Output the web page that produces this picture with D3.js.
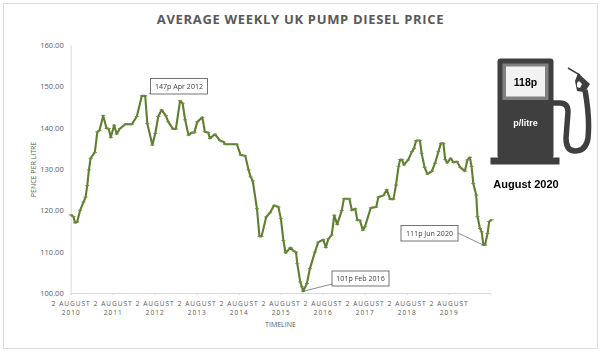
<!DOCTYPE html>
<html>
<head>
<meta charset="utf-8">
<script src="https://cdnjs.cloudflare.com/ajax/libs/d3/7.8.5/d3.min.js"></script>
<style>
    html, body { margin: 0; padding: 0; background: #fff; }
    svg { display: block; filter: blur(0.35px); }
</style>
</head>
<body>
<div id="chart"></div>
<script>
// decimal year of each reading
var years = [2010.59, 2010.65, 2010.69, 2010.74, 2010.81, 2010.89, 2010.94, 2010.98, 2011.02, 2011.06,
    2011.16, 2011.22, 2011.27, 2011.36, 2011.44, 2011.49, 2011.54, 2011.62, 2011.68, 2011.76,
    2011.90, 2012.04, 2012.16, 2012.28, 2012.36, 2012.41, 2012.53, 2012.60, 2012.67, 2012.75,
    2012.85, 2012.91, 2013.02, 2013.09, 2013.19, 2013.25, 2013.31, 2013.39, 2013.47, 2013.53,
    2013.60, 2013.72, 2013.78, 2013.86, 2013.90, 2014.02, 2014.14, 2014.22, 2014.26, 2014.38,
    2014.54, 2014.63, 2014.74, 2014.82, 2014.87, 2014.92, 2015.02, 2015.08, 2015.13, 2015.24,
    2015.33, 2015.43, 2015.53, 2015.59, 2015.65, 2015.70, 2015.82, 2015.89, 2015.95, 2015.98,
    2016.05, 2016.09, 2016.12, 2016.21, 2016.28, 2016.40, 2016.48, 2016.60, 2016.66, 2016.72,
    2016.80, 2016.86, 2016.93, 2017.04, 2017.09, 2017.22, 2017.28, 2017.36, 2017.41, 2017.47,
    2017.54, 2017.59, 2017.73, 2017.86, 2017.91, 2018.03, 2018.11, 2018.19, 2018.27, 2018.33,
    2018.39, 2018.43, 2018.47, 2018.52, 2018.62, 2018.71, 2018.76, 2018.81, 2018.90, 2018.94,
    2019.01, 2019.08, 2019.18, 2019.26, 2019.34, 2019.40, 2019.46, 2019.50, 2019.55, 2019.63,
    2019.70, 2019.78, 2019.86, 2019.97, 2020.03, 2020.09, 2020.13, 2020.17, 2020.24, 2020.27,
    2020.33, 2020.37, 2020.41, 2020.45, 2020.51, 2020.55, 2020.61];

var prices = [118.9, 118.5, 117, 117.2, 120, 122, 123.2, 126, 129.8, 132.6,
    134, 139, 139.3, 142.9, 139.8, 139.8, 137.6, 140.6, 138.5, 139.8,
    140.9, 140.8, 142.7, 147.7, 147.7, 141, 135.8, 138.6, 142.7, 144.3,
    142.9, 141.4, 139.7, 139.7, 146.5, 145.9, 141.9, 138.2, 138.8, 138.8,
    141.4, 142.5, 139, 138.8, 137.4, 138.4, 136.9, 136.6, 136, 136,
    136, 133.4, 133.2, 129.8, 128.1, 127.1, 120.4, 113.7, 113.7, 118.4,
    119.4, 121.2, 120.8, 118, 112.7, 109.7, 111, 110.2, 109.9, 107.1,
    102.7, 101.5, 100.4, 102.3, 105.9, 109.9, 112.3, 112.9, 111, 113.1,
    114, 118.8, 116.6, 120, 122.8, 122.8, 120, 120.4, 117.6, 117.6,
    115.2, 116, 120.6, 120.8, 123.2, 123.6, 125, 122.7, 122.7, 126.1,
    130.6, 132.3, 132.3, 131, 132.2, 134.2, 135, 136.9, 136.9, 133.8,
    130.4, 128.8, 129.4, 131.4, 134.2, 136.2, 136.2, 132.3, 131.5, 132.6,
    131.6, 131.8, 130.4, 129.5, 132.2, 132.8, 130.6, 126.5, 123.7, 118.5,
    115.6, 114.8, 111.6, 111.6, 114.4, 117.3, 117.7];

var xTickYears = [2010.586, 2011.586, 2012.586, 2013.586, 2014.586, 2015.586, 2016.586, 2017.586, 2018.586, 2019.586];
var xTickDay = '2 AUGUST';
var xTickLabels = ['2010', '2011', '2012', '2013', '2014', '2015', '2016', '2017', '2018', '2019'];
var yTicks = [100, 110, 120, 130, 140, 150, 160];

var noteTexts = ['147p Apr 2012', '101p Feb 2016', '111p Jun 2020'];
var noteYears = [2012.28, 2016.12, 2020.41];
var notePrices = [147.7, 100.4, 111.6];

var width = 602;
var height = 354;
var font = "'Open Sans', sans-serif";

var svg = d3.select('#chart').append('svg')
    .attr('width', width)
    .attr('height', height);

svg.append('rect')
    .attr('x', 3.5).attr('y', 3.5)
    .attr('width', 594).attr('height', 345)
    .attr('fill', '#fff')
    .attr('stroke', '#dedede');

var xScale = d3.scaleLinear()
    .domain([2010.586, 2020.58])
    .range([70.7, 490.5]);
var yScale = d3.scaleLinear()
    .domain([100, 160])
    .range([293, 45]);

svg.append('text')
    .attr('x', 300.5).attr('y', 23.5)
    .attr('text-anchor', 'middle')
    .attr('font-family', font)
    .attr('font-size', 13)
    .attr('font-weight', 700)
    .attr('letter-spacing', 0.68)
    .attr('fill', '#595959')
    .text('AVERAGE WEEKLY UK PUMP DIESEL PRICE');

// axes
var yAxis = svg.append('g')
    .attr('transform', 'translate(70.7,0)')
    .call(d3.axisLeft(yScale).tickValues(yTicks).tickSize(0).tickPadding(7).tickFormat(d3.format('.2f')));
yAxis.select('.domain').attr('stroke', '#d9d9d9');
yAxis.selectAll('text')
    .attr('font-family', font).attr('font-size', 7.5).attr('fill', '#595959');

var xAxis = svg.append('g')
    .attr('transform', 'translate(0,293)')
    .call(d3.axisBottom(xScale).tickValues(xTickYears).tickSize(2).tickFormat(''));
xAxis.select('.domain').attr('stroke', '#d9d9d9');
xAxis.selectAll('line').attr('stroke', '#d9d9d9');
xAxis.selectAll('.tick').each(function (d, i) {
    var t = d3.select(this).append('text')
        .attr('text-anchor', 'middle')
        .attr('font-family', font)
        .attr('font-size', 6.5)
        .attr('letter-spacing', 1)
        .attr('fill', '#595959');
    t.append('tspan').attr('x', 0).attr('y', 13).text(xTickDay);
    t.append('tspan').attr('x', 0).attr('y', 22).text(xTickLabels[i]);
});

svg.append('text')
    .attr('x', 280.5).attr('y', 326.5)
    .attr('text-anchor', 'middle')
    .attr('font-family', font).attr('font-size', 7)
    .attr('fill', '#595959')
    .text('TIMELINE');

svg.append('text')
    .attr('transform', 'translate(35.5,169.5) rotate(-90)')
    .attr('text-anchor', 'middle')
    .attr('font-family', font).attr('font-size', 7)
    .attr('fill', '#595959')
    .text('PENCE PER LITRE');

// price line
var points = years.map((d, i) => ({ year: d, price: prices[i] }));
var line = d3.line()
    .x(d => xScale(d.year))
    .y(d => yScale(d.price));

svg.append('path')
    .datum(points)
    .attr('d', line)
    .attr('fill', 'none')
    .attr('stroke', '#5f7f30')
    .attr('stroke-width', 2.1)
    .attr('stroke-linejoin', 'round');

svg.selectAll('.mark')
    .data(points)
    .enter()
    .append('line')
    .attr('class', 'mark')
    .attr('x1', d => xScale(d.year) - 2)
    .attr('x2', d => xScale(d.year) + 2)
    .attr('y1', d => yScale(d.price))
    .attr('y2', d => yScale(d.price))
    .attr('stroke', '#6f8f40')
    .attr('stroke-width', 1);

// call-outs, reach is how much of the way to the point the leader goes
var noteBoxes = [
    { x: 150.5, y: 78.5, w: 57, h: 15.5, fromX: 150.5, fromY: 93, reach: 0.2 },
    { x: 332, y: 271, w: 57, h: 15, fromX: 332, fromY: 284, reach: 1 },
    { x: 401, y: 225.5, w: 57, h: 15.5, fromX: 458, fromY: 233, reach: 1 }
];
noteBoxes.forEach(function (b, i) {
    svg.append('line')
        .attr('x1', b.fromX).attr('y1', b.fromY)
        .attr('x2', b.fromX + (xScale(noteYears[i]) - b.fromX) * b.reach)
        .attr('y2', b.fromY + (yScale(notePrices[i]) - b.fromY) * b.reach)
        .attr('stroke', '#595959').attr('stroke-width', 0.7);
    svg.append('rect')
        .attr('x', b.x).attr('y', b.y)
        .attr('width', b.w).attr('height', b.h)
        .attr('fill', '#fff')
        .attr('stroke', '#666').attr('stroke-width', 0.9);
    svg.append('text')
        .attr('x', b.x + b.w / 2).attr('y', b.y + b.h / 2 + 2.5)
        .attr('text-anchor', 'middle')
        .attr('font-family', font).attr('font-size', 7.1)
        .attr('fill', '#404040')
        .text(noteTexts[i]);
});

// pump picture
var pump = svg.append('g');
var pumpColor = '#3f3f3f';

pump.append('path')
    .attr('d', 'M553,103 L560,103 Q568,103 568,112 L566,138 Q566,151 575,151 Q586,151 588,138 Q590,118 585,90')
    .attr('fill', 'none')
    .attr('stroke', pumpColor)
    .attr('stroke-width', 5.5);
pump.append('path')
    .attr('d', 'M578,73 L590,84 L585,92 L577,91 L575,81 Z')
    .attr('fill', pumpColor);
pump.append('path')
    .attr('d', 'M579,81 L582,84 L580,88 L577,87 L577,83 Z')
    .attr('fill', '#fff');
pump.append('path')
    .attr('d', 'M568,68 L580,75')
    .attr('stroke', pumpColor)
    .attr('stroke-width', 1.5);
pump.append('rect')
    .attr('x', 497.5).attr('y', 58.5).attr('width', 56).attr('height', 100).attr('rx', 3)
    .attr('fill', pumpColor);
pump.append('rect')
    .attr('x', 490.5).attr('y', 157.5).attr('width', 69).attr('height', 7)
    .attr('fill', pumpColor);
pump.append('rect')
    .attr('x', 502.5).attr('y', 63.5).attr('width', 46).attr('height', 36.5)
    .attr('fill', '#808080');
pump.append('rect')
    .attr('x', 506).attr('y', 66.5).attr('width', 39).attr('height', 30)
    .attr('fill', '#f2f2f2');
pump.append('text')
    .attr('x', 525.5).attr('y', 86)
    .attr('text-anchor', 'middle')
    .attr('font-family', "'Liberation Sans', sans-serif")
    .attr('font-size', 10.5).attr('font-weight', 700)
    .attr('fill', '#000')
    .text('118p');
pump.append('text')
    .attr('x', 525.5).attr('y', 126)
    .attr('text-anchor', 'middle')
    .attr('font-family', "'Liberation Sans', sans-serif")
    .attr('font-size', 9).attr('font-weight', 700)
    .attr('fill', '#fff')
    .text('p/litre');
svg.append('text')
    .attr('x', 526).attr('y', 187.5)
    .attr('text-anchor', 'middle')
    .attr('font-family', "'Liberation Sans', sans-serif")
    .attr('font-size', 11).attr('font-weight', 700)
    .attr('fill', '#000')
    .text('August 2020');
</script>
</body>
</html>
